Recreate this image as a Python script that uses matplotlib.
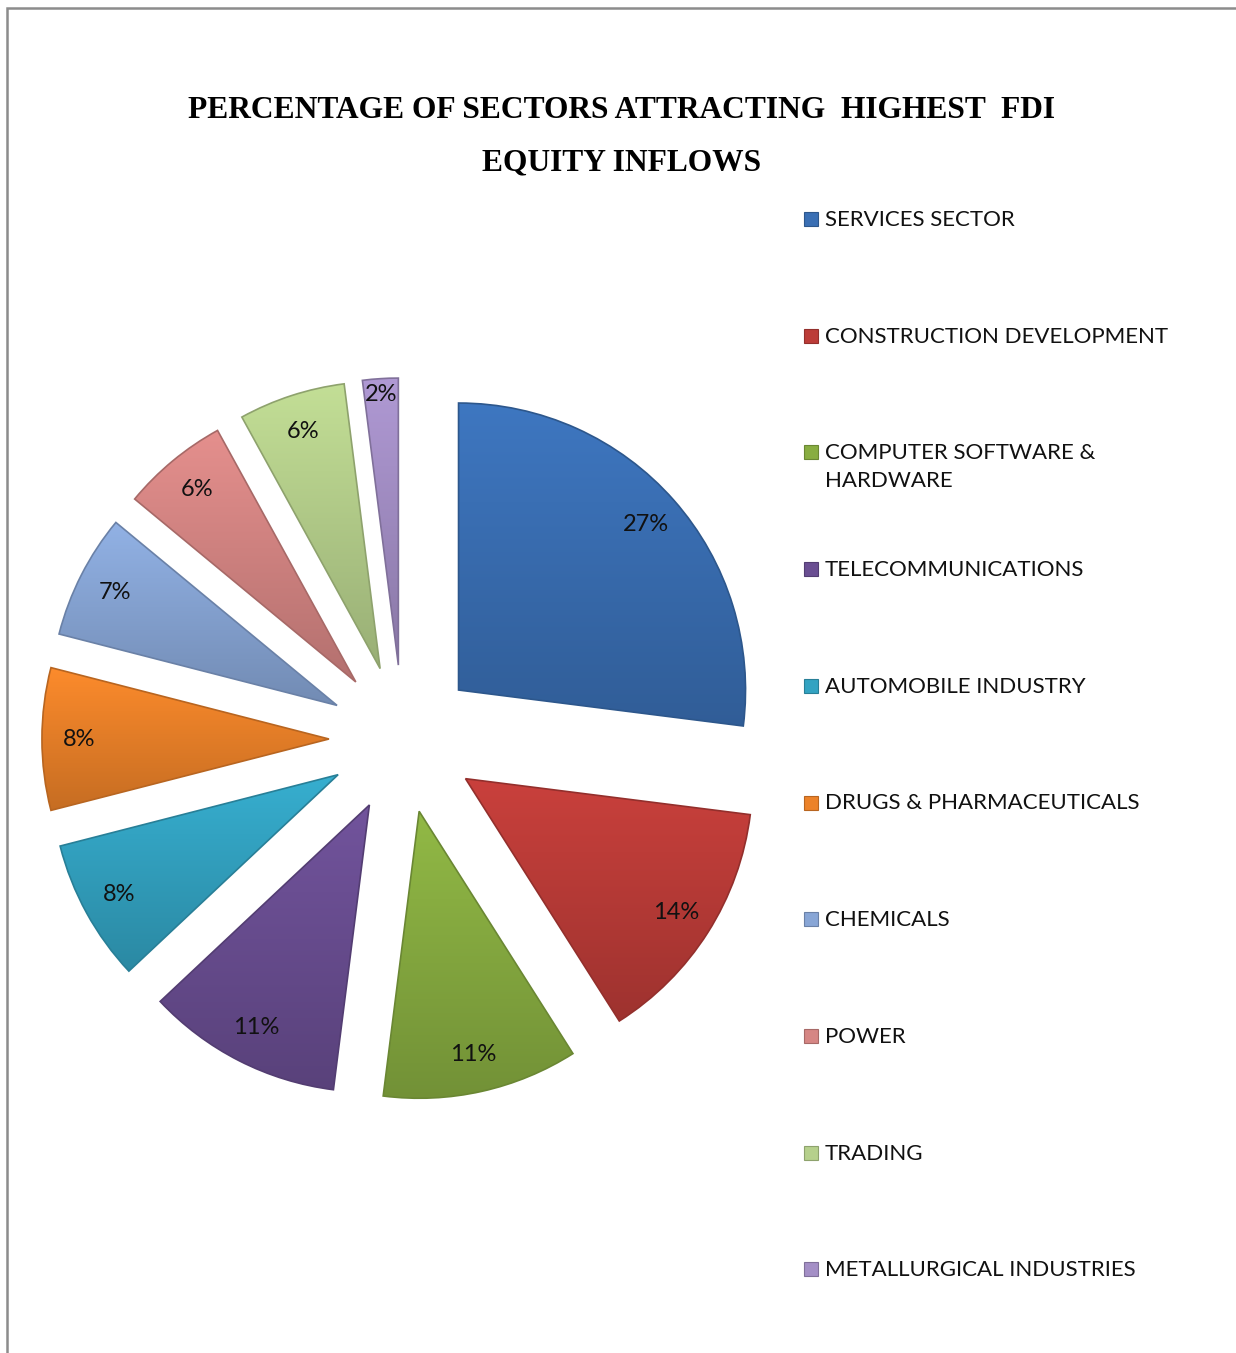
import matplotlib
matplotlib.use("Agg")
import matplotlib.pyplot as plt
from matplotlib.patches import Rectangle
import matplotlib.colors as mcolors
import numpy as np

# Sector shares of FDI equity inflows (percent)
sectors = [
    "SERVICES SECTOR",
    "CONSTRUCTION DEVELOPMENT",
    "COMPUTER SOFTWARE &\nHARDWARE",
    "TELECOMMUNICATIONS",
    "AUTOMOBILE INDUSTRY",
    "DRUGS & PHARMACEUTICALS",
    "CHEMICALS",
    "POWER",
    "TRADING",
    "METALLURGICAL INDUSTRIES",
]
shares = [27, 14, 11, 11, 8, 8, 7, 6, 6, 2]
colors = [
    "#3A6FB4", "#BC3C38", "#88AD41", "#6A4E92", "#33A3C2",
    "#EC8229", "#88A6D6", "#D68684", "#B6D08C", "#A48FC6",
]


def shade(c, f):
    return tuple(min(1.0, v * f) for v in mcolors.to_rgb(c))


W, H = 1236, 1353
fig = plt.figure(figsize=(W / 100, H / 100), dpi=100)
fig.patch.set_facecolor("white")

# outer chart frame
fig.patches.append(Rectangle((7 / W, -0.05), 1.1, (H - 8) / H + 0.05,
                             transform=fig.transFigure, fill=False,
                             edgecolor="#8C8C8C", linewidth=1.8))

# pie axes: centre at (403, 739) px, radius 287 px, limits +/-1.5
R = 287
cx, cy = 403, 739
half = 1.5 * R
ax = fig.add_axes([(cx - half) / W, (H - cy - half) / H, 2 * half / W, 2 * half / H])

label_font = ["Lato", "DejaVu Sans"]
wedges, _, autotexts = ax.pie(
    shares,
    colors=colors,
    startangle=90,
    counterclock=False,
    explode=[0.258] * len(shares),
    radius=1.0,
    autopct=lambda p: f"{p:.0f}%",
    pctdistance=0.87,
    wedgeprops=dict(linewidth=1.2),
    textprops=dict(fontsize=17, family=label_font, color="#111111"),
)

# vertical gradient inside each slice, lighter on top and darker below
for w, c in zip(wedges, colors):
    (wx, wy), r = w.center, w.r
    th = np.radians(np.linspace(w.theta1, w.theta2, 60))
    xs = np.concatenate([[wx], wx + r * np.cos(th)])
    ys = np.concatenate([[wy], wy + r * np.sin(th)])
    top, bot = np.array(shade(c, 1.07)), np.array(shade(c, 0.84))
    t = np.linspace(0, 1, 128)[:, None]
    grad = (top * (1 - t) + bot * t)[:, None, :]
    img = ax.imshow(grad, extent=[xs.min(), xs.max(), ys.min(), ys.max()],
                    origin="upper", aspect="auto", zorder=1.5,
                    interpolation="bilinear")
    img.set_clip_path(w)
    w.set_facecolor("none")
    w.set_edgecolor(shade(c, 0.78))
    w.set_zorder(2)

for t in autotexts:
    t.set_zorder(5)

# the thin last slice keeps its label a little further out
w_last, t_last = wedges[-1], autotexts[-1]
ang = np.radians((w_last.theta1 + w_last.theta2) / 2)
t_last.set_position((w_last.center[0] + 0.945 * np.cos(ang),
                     w_last.center[1] + 0.945 * np.sin(ang)))

ax.set_xlim(-1.5, 1.5)
ax.set_ylim(-1.5, 1.5)
ax.set_aspect("equal")
ax.axis("off")

# title
title_font = ["Liberation Serif", "DejaVu Serif"]
fig.text(622 / W, 1 - 110 / H, "PERCENTAGE OF SECTORS ATTRACTING  HIGHEST  FDI",
         ha="center", va="center", fontsize=22.7, fontweight="bold",
         family=title_font, color="#000000")
fig.text(622 / W, 1 - 163 / H, "EQUITY INFLOWS",
         ha="center", va="center", fontsize=22.7, fontweight="bold",
         family=title_font, color="#000000")

# legend, one row per sector
y0, step = 221, 116.7
for i, (name, c) in enumerate(zip(sectors, colors)):
    y = y0 + i * step
    fig.patches.append(Rectangle((804 / W, 1 - (y + 5) / H), 14 / W, 14 / H,
                                 transform=fig.transFigure, facecolor=c,
                                 edgecolor=shade(c, 0.78), linewidth=0.8))
    fig.text(825 / W, 1 - (y - 11) / H, name, ha="left", va="top",
             fontsize=16, family=label_font, color="#111111", linespacing=1.45)

fig.savefig("out.png", dpi=100, facecolor="white")
